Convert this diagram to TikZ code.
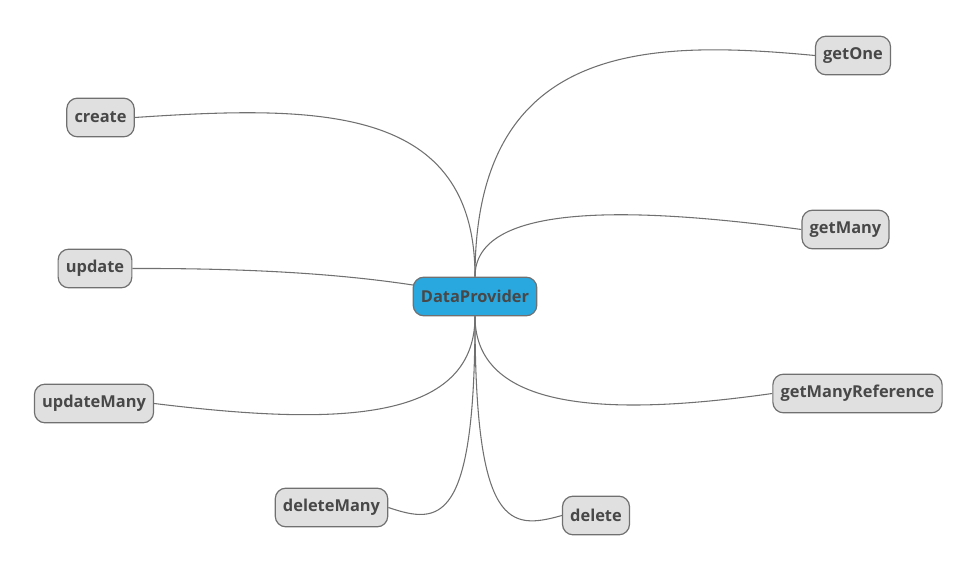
\documentclass[tikz,border=0pt]{standalone}
\usepackage{fontspec}
\setmainfont{Open Sans}
\usetikzlibrary{backgrounds}
\definecolor{leaffill}{HTML}{E0E0E0}
\definecolor{rootfill}{HTML}{29A8E0}
\definecolor{edgegray}{HTML}{707070}
\definecolor{textgray}{HTML}{484848}
\tikzset{
  leaf/.style={draw=edgegray, fill=leaffill, rounded corners=8pt, line width=0.9pt,
    minimum height=29pt, inner xsep=5.8pt, text=textgray, font=\bfseries\fontsize{12.3}{14}\selectfont},
  root/.style={leaf, fill=rootfill},
  branch/.style={draw=edgegray, line width=0.8pt}
}
\begin{document}
\begin{tikzpicture}[x=0.75pt, y=-0.75pt]
      \useasboundingbox (0,0) rectangle (979,573);
      \node[root] (DataProvider) at (475,296.5) {DataProvider};
      \node[leaf] (getOne) at (853,55.5) {getOne};
      \node[leaf] (getMany) at (845.5,229.5) {getMany};
      \node[leaf] (getManyReference) at (857.5,393.5) {getManyReference};
      \node[leaf] (delete) at (596,515.5) {delete};
      \node[leaf] (deleteMany) at (331.5,507.5) {deleteMany};
      \node[leaf] (updateMany) at (94,403.5) {updateMany};
      \node[leaf] (update) at (95,268.5) {update};
      \node[leaf] (create) at (100.5,117.5) {create};
      \begin{scope}[on background layer]
        \draw[branch] (DataProvider.north) .. controls (475,40) and (650,40) .. (getOne.west);
        \draw[branch] (DataProvider.north) .. controls (475,205) and (620,205) .. (getMany.west);
        \draw[branch] (DataProvider.north) .. controls (475,105) and (320,105) .. (create.east);
        \draw[branch] (DataProvider.south) .. controls (475,415) and (620,415) .. (getManyReference.west);
        \draw[branch] (DataProvider.south) .. controls (475,530) and (510,530) .. (delete.west);
        \draw[branch] (DataProvider.south) .. controls (475,525) and (440,525) .. (deleteMany.east);
        \draw[branch] (DataProvider.south) .. controls (475,425) and (330,425) .. (updateMany.east);
        \draw[branch] (update.east) .. controls (300,268) and (400,280) .. (DataProvider.center);
      \end{scope}
\end{tikzpicture}
\end{document}
